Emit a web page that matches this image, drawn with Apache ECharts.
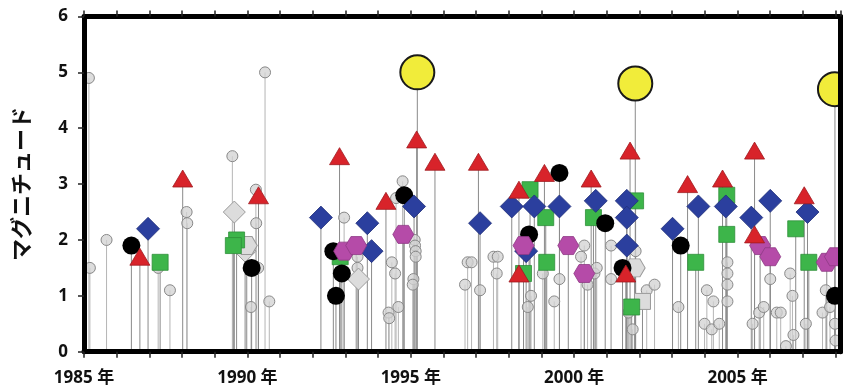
<!DOCTYPE html>
<html>
<head>
<meta charset="utf-8">
<script src="https://cdn.jsdelivr.net/npm/echarts@6/dist/echarts.min.js"></script>
<style>
html,body{margin:0;padding:0;background:#fff;}
#chart{width:843px;height:389px;}
</style>
</head>
<body>
<div id="chart"></div>
<script>
// ---- data (year, magnitude) ----
const yAxisTitle = 'マグニチュード';
const xLabelYears = [1985, 1990, 1995, 2000, 2005];
const yTicks = [0, 1, 2, 3, 4, 5, 6];

const grayYears = [1985.15,1985.18,1985.69,1987.27,1987.63,1988.14,1988.16,1989.54,1990.26,1990.27,1990.33,1990.11,1990.54,1990.67,
  1992.96,1993.37,1993.37,1994.32,1994.34,1994.42,1994.52,1994.62,1994.55,1994.75,1995.12,1995.13,1995.15,1995.15,1995.08,1995.06,
  1996.66,1996.74,1996.86,1997.12,1997.53,1997.66,1997.63,1998.68,1998.58,1999.04,1999.39,1999.55,2000.21,2000.31,2000.41,2000.62,
  2000.69,2001.13,2001.13,2001.66,2001.79,2001.88,2002.22,2002.46,2003.19,2003.99,2004.06,2004.21,2004.26,2004.44,2004.69,2004.69,
  2004.69,2004.69,2005.46,2005.66,2005.80,2006.00,2006.20,2006.32,2006.48,2006.61,2006.68,2006.71,2007.09,2007.60,2007.70,2007.83,
  2007.98,2008.00];
const grayMags = [4.9,1.5,2.0,1.5,1.1,2.5,2.3,3.5,2.9,2.3,1.5,0.8,5.0,0.9,
  2.4,1.7,1.5,0.7,0.6,1.6,1.4,0.8,2.75,3.05,2.0,1.9,1.8,1.7,1.3,1.2,
  1.2,1.6,1.6,1.1,1.7,1.7,1.4,1.0,0.8,1.4,0.9,1.3,1.7,1.9,1.2,1.4,
  1.5,1.9,1.3,0.7,0.4,1.8,1.1,1.2,0.8,0.5,1.1,0.4,0.9,0.5,1.6,1.4,
  1.2,0.9,0.5,0.7,0.8,1.3,0.7,0.7,0.1,1.4,1.0,0.3,0.5,0.7,1.1,0.8,
  0.5,0.2];

const blackYears = [1986.45,1990.13,1992.63,1992.89,1992.71,1994.80,1998.62,1999.55,2000.95,2001.48,2003.26,2007.98];
const blackMags  = [1.9,1.5,1.8,1.4,1.0,2.8,2.1,3.2,2.3,1.5,1.9,1.0];

const redYears = [1986.71,1988.02,1990.34,1992.82,1994.24,1995.18,1995.74,1997.07,1998.31,1998.31,1999.09,2000.52,2001.58,2001.71,2003.47,2004.54,2005.52,2005.52,2007.04];
const redMags  = [1.7,3.1,2.8,3.5,2.7,3.8,3.4,3.4,2.9,1.4,3.2,3.1,1.4,3.6,3.0,3.1,3.6,2.1,2.8];

const greenYears = [1987.33,1989.67,1989.57,1992.84,1998.65,1998.45,1999.13,1999.16,2000.59,2001.88,2001.76,2003.72,2004.67,2004.67,2006.78,2007.18];
const greenMags  = [1.6,2.0,1.9,1.7,2.9,1.4,2.4,1.6,2.4,2.7,0.8,1.6,2.8,2.1,2.2,1.6];

const blueYears = [1986.96,1992.25,1993.67,1993.80,1995.10,1997.12,1998.09,1998.53,1998.78,1999.55,2000.66,2001.61,2001.61,2001.61,2003.01,2003.80,2004.64,2005.42,2006.00,2007.14];
const blueMags  = [2.2,2.4,2.3,1.8,2.6,2.3,2.6,1.8,2.6,2.6,2.7,2.7,2.4,1.9,2.2,2.6,2.6,2.4,2.7,2.5];

const purpleYears = [1992.96,1993.33,1994.77,1998.45,1999.82,2000.31,2005.69,2006.00,2007.73,2007.98];
const purpleMags  = [1.8,1.9,2.1,1.9,1.9,1.4,1.9,1.7,1.6,1.7];

const lgDiamondYears = [1989.60,1989.93,1993.40];
const lgDiamondMags  = [2.5,1.8,1.3];
const lgHexYears = [1989.98,2001.85];
const lgHexMags  = [1.9,1.5];
const lgSquareYears = [2002.09];
const lgSquareMags  = [0.9];

const yellowYears = [1995.20,2001.87,2007.98];
const yellowMags  = [5.0,4.8,4.7];

// ---- helpers ----
const zip = (xs, ys) => xs.map((x, i) => [x, ys[i]]);
const HEX = 'path://M0,50 L25,7 L75,7 L100,50 L75,93 L25,93 Z';

const grayPts = zip(grayYears, grayMags);
const markerPts = [].concat(
  zip(blackYears, blackMags), zip(redYears, redMags), zip(greenYears, greenMags),
  zip(blueYears, blueMags), zip(purpleYears, purpleMags), zip(lgDiamondYears, lgDiamondMags),
  zip(lgHexYears, lgHexMags), zip(lgSquareYears, lgSquareMags), zip(yellowYears, yellowMags));

function stemSeries(data, color, width, z) {
  return {
    type: 'custom', data: data, clip: true, z: z, silent: true,
    renderItem: function (params, api) {
      const x = api.value(0), y = api.value(1);
      const p0 = api.coord([x, 0]);
      const p1 = api.coord([x, y]);
      return { type: 'line', shape: { x1: p0[0], y1: p0[1], x2: p1[0], y2: p1[1] },
               style: { stroke: color, lineWidth: width } };
    }
  };
}
function scatter(data, symbol, size, color, border, bw, z) {
  return {
    type: 'scatter', data: data, symbol: symbol, symbolSize: size, z: z, clip: true, silent: true,
    itemStyle: { color: color, borderColor: border, borderWidth: bw, opacity: 1 }
  };
}

const chart = echarts.init(document.getElementById('chart'), null, { renderer: 'canvas' });
const FONT = '"Open Sans", "Noto Sans CJK JP", sans-serif';
const CJK = '"Noto Sans CJK JP", sans-serif';

const axisCommonX = {
  type: 'value', min: 1985, max: 2008.15, interval: 1,
  splitLine: { show: false },
  axisLine: { show: true, onZero: false, lineStyle: { color: '#000', width: 5 } },
  axisTick: { show: true, inside: false, length: 6, lineStyle: { color: '#222', width: 1.5 } },
  z: 10
};

chart.setOption({
  animation: false,
  backgroundColor: '#fff',
  grid: { left: 84, right: 2.5, top: 16.5, bottom: 37.3, containLabel: false },
  xAxis: [
    Object.assign({}, axisCommonX, {
      position: 'bottom',
      axisLabel: {
        show: true, margin: 18, color: '#111', fontFamily: FONT, fontWeight: 'bold', fontSize: 17,
        showMaxLabel: false,
        formatter: function (v) { return xLabelYears.indexOf(Math.round(v)) >= 0 && Math.abs(v - Math.round(v)) < 1e-6 ? Math.round(v) + ' 年' : ''; }
      }
    }),
    Object.assign({}, axisCommonX, {
      position: 'top',
      axisLabel: { show: false }
    })
  ],
  yAxis: [
    {
      type: 'value', min: 0, max: 6, interval: 1, position: 'left',
      name: yAxisTitle, nameLocation: 'middle', nameGap: 52, nameRotate: 90,
      nameTextStyle: { fontFamily: CJK, fontWeight: 'bold', fontSize: 22, color: '#111' },
      splitLine: { show: false },
      axisLine: { show: true, onZero: false, lineStyle: { color: '#000', width: 5 } },
      axisTick: { show: true, length: 6, lineStyle: { color: '#222', width: 1.5 } },
      axisLabel: { margin: 16, color: '#111', fontFamily: FONT, fontWeight: 'bold', fontSize: 17,
        formatter: function (v) { return yTicks.indexOf(v) >= 0 ? String(v) : ''; } },
      z: 10
    },
    {
      type: 'value', min: 0, max: 6, interval: 1, position: 'right',
      splitLine: { show: false },
      axisLine: { show: true, onZero: false, lineStyle: { color: '#000', width: 5 } },
      axisTick: { show: false }, axisLabel: { show: false },
      z: 10
    }
  ],
  series: [
    stemSeries(grayPts, '#b5b5b5', 1, 1),
    stemSeries(markerPts, '#8a8a8a', 1, 1),
    scatter(grayPts, 'circle', 11, 'rgba(210,210,210,0.75)', '#888', 1, 2),
    scatter(zip(lgDiamondYears, lgDiamondMags), 'diamond', [22, 22], '#dcdcdc', '#9a9a9a', 1, 3),
    scatter(zip(lgHexYears, lgHexMags), HEX, [21, 18], '#dcdcdc', '#9a9a9a', 1, 3),
    scatter(zip(lgSquareYears, lgSquareMags), 'rect', [16, 16], '#dcdcdc', '#9a9a9a', 1, 3),
    scatter(zip(greenYears, greenMags), 'rect', [16, 16], '#3db54a', '#2e8f3a', 0.8, 4),
    scatter(zip(blackYears, blackMags), 'circle', 18, '#000', '#000', 0, 5),
    scatter(zip(blueYears, blueMags), 'diamond', [23, 23], '#2b3f9e', '#1f2e78', 0.8, 6),
    scatter(zip(purpleYears, purpleMags), HEX, [21, 18], '#b54ba8', '#8e3a84', 0.8, 7),
    scatter(zip(redYears, redMags), 'triangle', [20, 17], '#d8232a', '#a01a1f', 0.8, 8),
    scatter(zip(yellowYears, yellowMags), 'circle', 34, '#f1ec3a', '#1a1a1a', 2, 9)
  ]
});
</script>
</body>
</html>
